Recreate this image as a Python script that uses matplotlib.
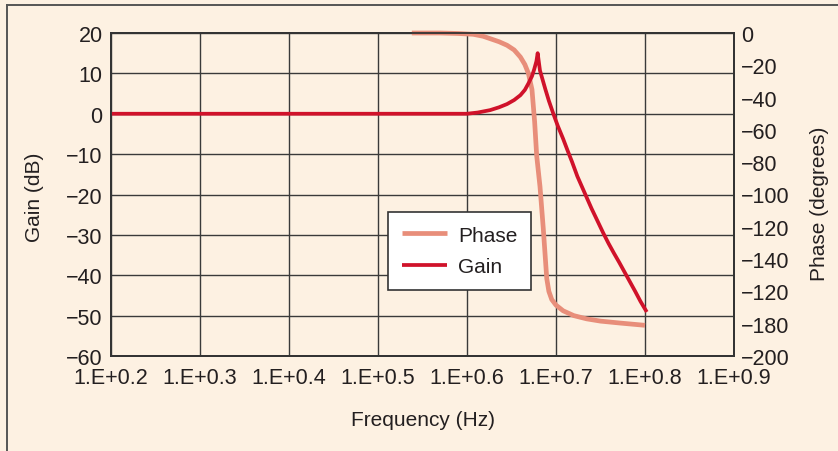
import matplotlib
matplotlib.use("Agg")
import matplotlib.pyplot as plt
from matplotlib.lines import Line2D

# ---- data (x = log10 of frequency) ----
gain_x = [0.200, 0.600, 0.612, 0.626, 0.636, 0.645, 0.653, 0.660, 0.665, 0.669,
          0.673, 0.6755, 0.678, 0.6794, 0.682, 0.688, 0.692, 0.697, 0.702, 0.708,
          0.713, 0.718, 0.724, 0.730, 0.735, 0.740, 0.745, 0.753, 0.759, 0.765,
          0.771, 0.776, 0.782, 0.789, 0.795, 0.802]
gain_db = [0.0, 0.0, 0.3, 0.9, 1.6, 2.4, 3.4, 4.6, 5.9, 7.5,
           9.3, 11.0, 13.0, 15.0, 10.7, 6.1, 3.2, 0.0, -3.0, -6.2,
           -9.1, -11.9, -15.5, -18.5, -21.0, -23.5, -25.8, -29.5, -32.1, -34.5,
           -36.8, -38.8, -41.2, -44.0, -46.5, -49.1]

phase_x = [0.538, 0.570, 0.590, 0.607, 0.618, 0.626, 0.636, 0.645, 0.653, 0.660,
           0.665, 0.669, 0.673, 0.676, 0.6783, 0.682, 0.6857, 0.6896, 0.692, 0.6952,
           0.700, 0.708, 0.720, 0.7345, 0.750, 0.772, 0.800]
phase_deg = [0.0, 0.0, -0.3, -0.8, -2.0, -3.5, -5.4, -7.6, -10.5, -14.9,
             -19.5, -25.0, -35.0, -55.0, -76.0, -95.0, -121.0, -152.0, -160.0, -165.0,
             -168.5, -172.0, -175.0, -177.0, -178.4, -179.6, -181.0]

x_ticks = [0.2, 0.3, 0.4, 0.5, 0.6, 0.7, 0.8, 0.9]
x_labels = ["1.E+0.2", "1.E+0.3", "1.E+0.4", "1.E+0.5", "1.E+0.6", "1.E+0.7", "1.E+0.8", "1.E+0.9"]
gain_ticks = [20, 10, 0, -10, -20, -30, -40, -50, -60]
gain_labels = ["20", "10", "0", "\u221210", "\u221220", "\u221230", "\u221240", "\u221250", "\u221260"]
phase_ticks = [0, -20, -40, -60, -80, -100, -120, -140, -160, -180, -200]
phase_labels = ["0", "\u221220", "\u221240", "\u221260", "\u221280", "\u2212100", "\u2212120",
                "\u2212140", "\u2212120", "\u2212180", "\u2212200"]

# ---- style ----
BG = "#fdf1e2"
TXT = "#231f20"
GRID = "#3a3a3a"
GAIN_C = "#d0122a"
PHASE_C = "#e88e7a"
plt.rcParams['font.family'] = ['Liberation Sans', 'DejaVu Sans']

W, H = 838, 452
fig = plt.figure(figsize=(W / 100, H / 100), dpi=100, facecolor=BG)
ax = fig.add_axes([111 / W, 1 - 357 / H, 623 / W, 323 / H], facecolor=BG)
ax2 = ax.twinx()

ax.set_xlim(0.2, 0.9)
ax.set_ylim(-60, 20)
ax2.set_ylim(-200, 0)

ax.set_xticks(x_ticks)
ax.set_xticklabels(x_labels)
ax.set_yticks(gain_ticks)
ax.set_yticklabels(gain_labels)
ax2.set_yticks(phase_ticks)
ax2.set_yticklabels(phase_labels)

ax.tick_params(axis='both', length=0, labelsize=15.5, colors=TXT)
ax.tick_params(axis='y', pad=6)
ax.tick_params(axis='x', pad=8)
ax2.tick_params(axis='y', length=0, labelsize=15.5, colors=TXT, pad=5)

ax.grid(True, color=GRID, lw=1.0)
ax.set_axisbelow(True)
for a in (ax, ax2):
    for s in a.spines.values():
        s.set_color("#333333")
        s.set_linewidth(1.3)

lp, = ax.plot(phase_x, phase_deg, color=PHASE_C, lw=3.4, transform=ax2.transData,
              solid_capstyle='butt', clip_on=False, label="Phase", zorder=3)
lg, = ax.plot(gain_x, gain_db, color=GAIN_C, lw=2.7, solid_capstyle='butt',
              clip_on=False, label="Gain", zorder=4)

leg = ax.legend(handles=[lp, lg], loc='upper left', bbox_to_anchor=(0.4446, 0.4458),
                borderaxespad=0, fancybox=False, framealpha=1, facecolor='white',
                edgecolor='#333333', fontsize=15, handlelength=2.2, handletextpad=0.5,
                labelspacing=0.6, borderpad=0.65)
leg.get_frame().set_linewidth(1.2)
for t in leg.get_texts():
    t.set_color(TXT)

fig.text(35 / W, 1 - 197 / H, "Gain (dB)", rotation=90, ha='center', va='center',
         fontsize=15, color=TXT)
fig.text(819 / W, 1 - 204 / H, "Phase (degrees)", rotation=90, ha='center', va='center',
         fontsize=15, color=TXT)
fig.text(423 / W, 1 - 421 / H, "Frequency (Hz)", ha='center', va='center',
         fontsize=15, color=TXT)

# outer frame (top and left edges visible)
fig.add_artist(Line2D([7 / W, 7 / W], [0, 1 - 6 / H], transform=fig.transFigure,
                      color="#555555", lw=1.4))
fig.add_artist(Line2D([7 / W, 1], [1 - 6 / H, 1 - 6 / H], transform=fig.transFigure,
                      color="#555555", lw=1.4))

fig.savefig("out.png", dpi=100, facecolor=BG)
